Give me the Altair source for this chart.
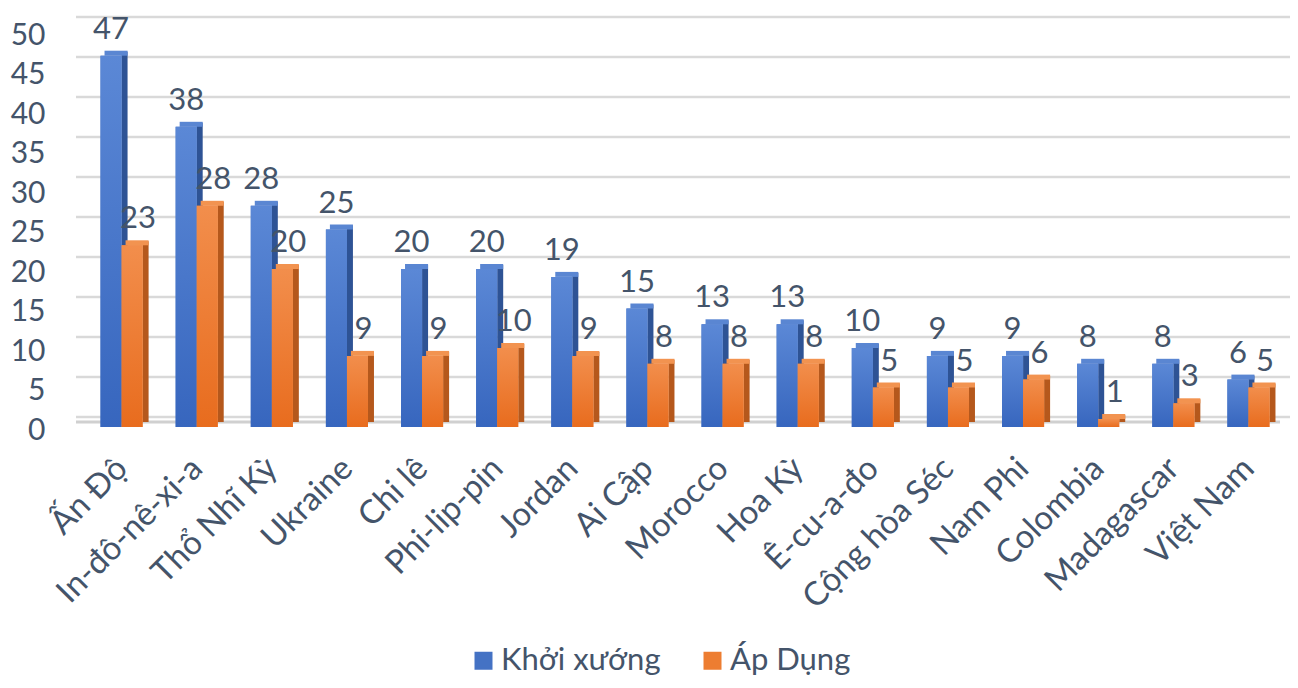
import json
import altair as alt
import pandas as pd

countries = ["Ấn Độ", "In-đô-nê-xi-a", "Thổ Nhĩ Kỳ", "Ukraine", "Chi lê", "Phi-lip-pin",
             "Jordan", "Ai Cập", "Morocco", "Hoa Kỳ", "Ê-cu-a-đo", "Cộng hòa Séc",
             "Nam Phi", "Colombia", "Madagascar", "Việt Nam"]
khoi_xuong = [47, 38, 28, 25, 20, 20, 19, 15, 13, 13, 10, 9, 9, 8, 8, 6]
ap_dung = [23, 28, 20, 9, 9, 10, 9, 8, 8, 8, 5, 5, 6, 1, 3, 5]
series = ["Khởi xướng", "Áp Dụng"]
y_ticks = [0, 5, 10, 15, 20, 25, 30, 35, 40, 45, 50]

front_colors = ["#4472C4", "#ED7D31"]
top_colors = ["#5A86D2", "#F29350"]
side_colors = ["#2E5395", "#B5581C"]

TXT = "#44546A"
FONT = "Lato"
BAR_W = 0.28  # fraction of a category step per bar

rows = []
for i, (c, a, b) in enumerate(zip(countries, khoi_xuong, ap_dung)):
    rows.append({"idx": i, "country": c, "series": series[0], "s": 0, "value": a})
    rows.append({"idx": i, "country": c, "series": series[1], "s": 1, "value": b})
df = pd.DataFrame(rows)
grid_df = pd.DataFrame({"g": y_ticks})

label_expr = json.dumps(countries, ensure_ascii=False) + "[datum.value]"

x_scale = alt.Scale(domain=[-0.5, len(countries) - 0.5], nice=False, zero=False)
x_axis = alt.Axis(title=None, values=list(range(len(countries))), labelExpr=label_expr,
                  labelAngle=-45, labelAlign="right", labelBaseline="middle",
                  labelPadding=36, labelFontSize=33, labelColor=TXT, labelFont=FONT,
                  ticks=False, domain=False, grid=False, labelOverlap=False, labelLimit=600,
                  labelFlush=False)
y_scale = alt.Scale(domain=[0, 50], nice=False)
y_axis = alt.Axis(title=None, values=y_ticks, grid=False, ticks=False, domain=False,
                  labelFontSize=30, labelColor=TXT, labelFont=FONT,
                  labelPadding=39, labelOffset=3)

base = alt.Chart(df).transform_calculate(
    x0=f"datum.idx + (datum.s - 1) * {BAR_W}",
    x1=f"datum.idx + datum.s * {BAR_W}",
    xc=f"datum.idx + (datum.s - 0.5) * {BAR_W}",
    zero="0",
)

X0 = alt.X("x0:Q", scale=x_scale, axis=x_axis)
X1 = alt.X2("x1:Q")
YV = alt.Y("value:Q", scale=y_scale, axis=y_axis)
Y0 = alt.Y2("zero:Q")


def by_series(vals):
    return alt.condition(alt.datum.s == 0, alt.value(vals[0]), alt.value(vals[1]))


grid = alt.Chart(grid_df).mark_rule(color="#D9D9D9", strokeWidth=2.5).encode(
    y=alt.Y("g:Q", scale=alt.Scale(domain=[-1.25, 48.125], nice=False, zero=False), axis=None),
    x=alt.value(-8), x2=alt.value(1212))

floor = alt.Chart(grid_df).transform_filter("datum.g == 0").mark_rule(
    color="#D0D0D0", strokeWidth=3).encode(
    y=alt.Y("g:Q", scale=alt.Scale(domain=[-0.63, 49.37], nice=False, zero=False), axis=None),
    x=alt.value(-8), x2=alt.value(1196))

side_face = base.mark_rect(x2Offset=6, yOffset=-4, y2Offset=-5).encode(
    x=alt.X("x1:Q", scale=x_scale, axis=x_axis), x2=alt.X2("x1:Q"), y=YV, y2=Y0,
    color=by_series(side_colors))

top_face = base.mark_rect(xOffset=4, x2Offset=6, yOffset=-5).encode(
    x=X0, x2=X1, y=YV, y2=alt.Y2("value:Q"),
    color=by_series(top_colors))

front = base.mark_rect().encode(
    x=X0, x2=X1, y=YV, y2=Y0,
    color=alt.Color("series:N", sort=series,
                    scale=alt.Scale(domain=series, range=front_colors),
                    legend=alt.Legend(title=None, orient="none", direction="horizontal",
                                      legendX=384, legendY=613, symbolType="square",
                                      symbolSize=324, symbolStrokeWidth=0,
                                      labelFontSize=31, labelColor=TXT, labelFont=FONT,
                                      labelOffset=2, columnPadding=36)))

grad_blue = {"gradient": "linear", "x1": 0, "y1": 0, "x2": 0, "y2": 1,
             "stops": [{"offset": 0, "color": "#5B88D6"}, {"offset": 1, "color": "#3766BE"}]}
grad_orange = {"gradient": "linear", "x1": 0, "y1": 0, "x2": 0, "y2": 1,
               "stops": [{"offset": 0, "color": "#F28E4C"}, {"offset": 1, "color": "#E86C1E"}]}

front_grad_b = base.transform_filter(alt.datum.s == 0).mark_rect(color=grad_blue).encode(
    x=X0, x2=X1, y=YV, y2=Y0)
front_grad_o = base.transform_filter(alt.datum.s == 1).mark_rect(color=grad_orange).encode(
    x=X0, x2=X1, y=YV, y2=Y0)

label_layers = []
for s_idx, dx in [(0, 0), (1, 6)]:
    label_layers.append(
        base.transform_filter(alt.datum.s == s_idx).mark_text(
            baseline="alphabetic", dy=-17, dx=dx, fontSize=31, color=TXT, font=FONT).encode(
            x=alt.X("xc:Q", scale=x_scale, axis=x_axis), y=YV, text=alt.Text("value:Q")))

bars = alt.layer(side_face, top_face, front, front_grad_b, front_grad_o, *label_layers)

chart = alt.layer(grid, floor, bars).resolve_scale(y="independent").properties(
    width=1202, height=395,
    autosize=alt.AutoSizeParams(type="none"),
    padding={"left": 76, "top": 24, "right": 4, "bottom": 253},
).configure_view(stroke=None)

chart.save("out.html", embed_options={"renderer": "svg", "actions": False})
